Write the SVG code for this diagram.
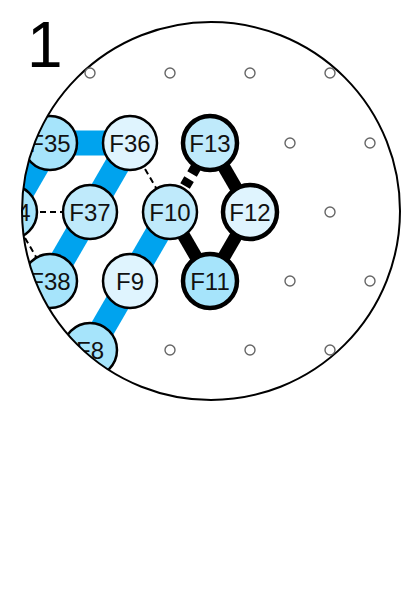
<svg xmlns="http://www.w3.org/2000/svg" width="414" height="594" viewBox="0 0 414 594">
<defs>
<clipPath id="disc"><circle cx="211" cy="211" r="189"/></clipPath>
<style>
.blue{stroke:#00a3ee;stroke-width:25;fill:none}
.black{stroke:#000;stroke-width:13;fill:none}
.bdash{stroke:#000;stroke-width:11;stroke-dasharray:8 6;fill:none}
.tdash{stroke:#000;stroke-width:2;stroke-dasharray:6 4;fill:none}
.n circle{stroke:#000;stroke-width:2.5}
.n.bold circle{stroke-width:4.5}
.n text{font-family:"Liberation Sans",Arial,sans-serif;font-size:24px;text-anchor:middle;fill:#111}
.c1{fill:#a6e4fb}
.c2{fill:#bfeafb}
.c3{fill:#dff4fe}
.dot{fill:#fff;stroke:#666;stroke-width:1.4}
</style>
</defs>
<rect width="414" height="594" fill="#fff"/>
<g clip-path="url(#disc)">
<g id="connectors">
<line class="blue" x1="50" y1="143" x2="130" y2="143"/>
<line class="blue" x1="50" y1="143" x2="10" y2="212"/>
<line class="blue" x1="130" y1="143" x2="90" y2="212"/>
<line class="blue" x1="90" y1="212" x2="50" y2="281"/>
<line class="blue" x1="170" y1="212" x2="130" y2="281"/>
<line class="blue" x1="130" y1="281" x2="90" y2="350"/>
<line class="black" x1="210" y1="143" x2="250" y2="212"/>
<line class="black" x1="250" y1="212" x2="210" y2="281"/>
<line class="black" x1="170" y1="212" x2="210" y2="281"/>
<line class="bdash" x1="170" y1="212" x2="210" y2="143" stroke-dashoffset="-2"/>
<line class="tdash" x1="130" y1="143" x2="170" y2="212"/>
<line class="tdash" x1="10" y1="212" x2="90" y2="212"/>
<line class="tdash" x1="10" y1="212" x2="50" y2="281"/>
</g>
<g id="F34" class="n"><circle class="c1" cx="10" cy="212" r="27"/><text x="10" y="220.5">F34</text></g>
<g id="F35" class="n"><circle class="c1" cx="50" cy="143" r="27"/><text x="50" y="151.5">F35</text></g>
<g id="F36" class="n"><circle class="c3" cx="130" cy="143" r="27"/><text x="130" y="151.5">F36</text></g>
<g id="F37" class="n"><circle class="c2" cx="90" cy="212" r="27"/><text x="90" y="220.5">F37</text></g>
<g id="F38" class="n"><circle class="c1" cx="50" cy="281" r="27"/><text x="50" y="289.5">F38</text></g>
<g id="F10" class="n"><circle class="c2" cx="170" cy="212" r="27"/><text x="170" y="220.5">F10</text></g>
<g id="F9" class="n"><circle class="c3" cx="130" cy="281" r="27"/><text x="130" y="289.5">F9</text></g>
<g id="F8" class="n"><circle class="c1" cx="90" cy="350" r="27"/><text x="90" y="358.5">F8</text></g>
<g id="F13" class="n bold"><circle class="c2" cx="210" cy="143" r="27"/><text x="210" y="151.5">F13</text></g>
<g id="F12" class="n bold"><circle class="c3" cx="250" cy="212" r="27"/><text x="250" y="220.5">F12</text></g>
<g id="F11" class="n bold"><circle class="c1" cx="210" cy="281" r="27"/><text x="210" y="289.5">F11</text></g>
</g>
<circle cx="211" cy="211" r="189" fill="none" stroke="#000" stroke-width="2"/>
<g id="grid">
<circle class="dot" cx="90" cy="73" r="5"/>
<circle class="dot" cx="170" cy="73" r="5"/>
<circle class="dot" cx="250" cy="73" r="5"/>
<circle class="dot" cx="330" cy="73" r="5"/>
<circle class="dot" cx="290" cy="143" r="5"/>
<circle class="dot" cx="370" cy="143" r="5"/>
<circle class="dot" cx="330" cy="212" r="5"/>
<circle class="dot" cx="290" cy="281" r="5"/>
<circle class="dot" cx="370" cy="281" r="5"/>
<circle class="dot" cx="170" cy="350" r="5"/>
<circle class="dot" cx="250" cy="350" r="5"/>
<circle class="dot" cx="330" cy="350" r="5"/>
</g>
<text x="27" y="67" font-family="'Liberation Sans',Arial,sans-serif" font-size="64" fill="#000">1</text>
</svg>
